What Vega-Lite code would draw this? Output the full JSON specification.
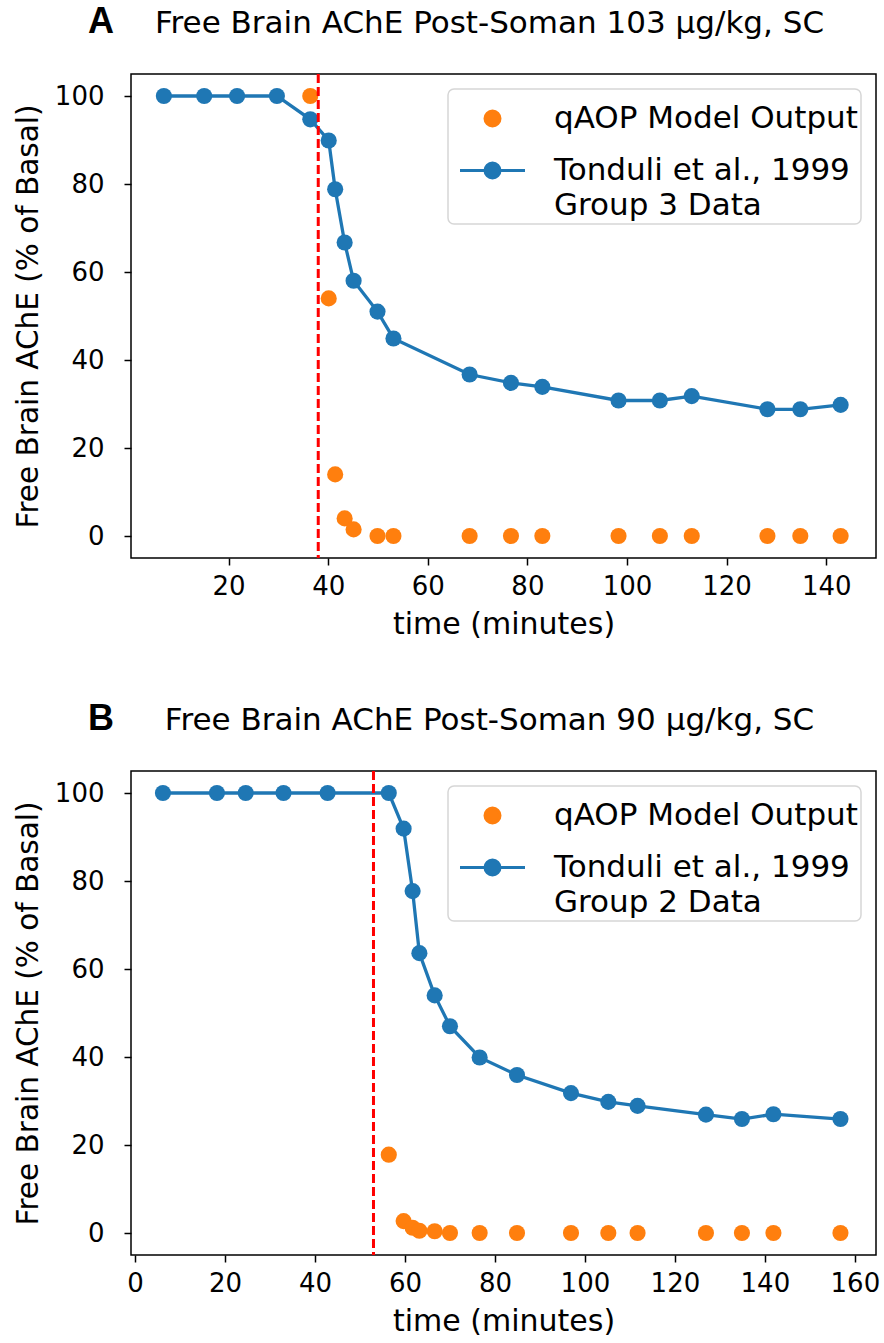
{
  "$schema": "https://vega.github.io/schema/vega-lite/v6.json",
  "background": "white",
  "padding": {"left": 12, "top": 3, "right": 5, "bottom": 0},
  "datasets": {
    "A": [
      {"t": 7, "v": 100, "series": "Tonduli"},
      {"t": 15.1, "v": 100, "series": "Tonduli"},
      {"t": 21.7, "v": 100, "series": "Tonduli"},
      {"t": 29.7, "v": 100, "series": "Tonduli"},
      {"t": 36.4, "v": 94.7, "series": "Tonduli"},
      {"t": 40.1, "v": 89.9, "series": "Tonduli"},
      {"t": 41.4, "v": 78.8, "series": "Tonduli"},
      {"t": 43.3, "v": 66.7, "series": "Tonduli"},
      {"t": 45.1, "v": 58, "series": "Tonduli"},
      {"t": 49.9, "v": 51, "series": "Tonduli"},
      {"t": 53.1, "v": 44.9, "series": "Tonduli"},
      {"t": 68.4, "v": 36.7, "series": "Tonduli"},
      {"t": 76.7, "v": 34.8, "series": "Tonduli"},
      {"t": 83, "v": 33.9, "series": "Tonduli"},
      {"t": 98.3, "v": 30.8, "series": "Tonduli"},
      {"t": 106.6, "v": 30.8, "series": "Tonduli"},
      {"t": 113, "v": 31.8, "series": "Tonduli"},
      {"t": 128.2, "v": 28.8, "series": "Tonduli"},
      {"t": 134.8, "v": 28.8, "series": "Tonduli"},
      {"t": 142.9, "v": 29.8, "series": "Tonduli"},
      {"t": 36.4, "v": 100, "series": "qAOP Model Output"},
      {"t": 40.1, "v": 54, "series": "qAOP Model Output"},
      {"t": 41.4, "v": 14, "series": "qAOP Model Output"},
      {"t": 43.3, "v": 4, "series": "qAOP Model Output"},
      {"t": 45.1, "v": 1.5, "series": "qAOP Model Output"},
      {"t": 49.9, "v": 0, "series": "qAOP Model Output"},
      {"t": 53.1, "v": 0, "series": "qAOP Model Output"},
      {"t": 68.4, "v": 0, "series": "qAOP Model Output"},
      {"t": 76.7, "v": 0, "series": "qAOP Model Output"},
      {"t": 83, "v": 0, "series": "qAOP Model Output"},
      {"t": 98.3, "v": 0, "series": "qAOP Model Output"},
      {"t": 106.6, "v": 0, "series": "qAOP Model Output"},
      {"t": 113, "v": 0, "series": "qAOP Model Output"},
      {"t": 128.2, "v": 0, "series": "qAOP Model Output"},
      {"t": 134.8, "v": 0, "series": "qAOP Model Output"},
      {"t": 142.9, "v": 0, "series": "qAOP Model Output"}
    ],
    "B": [
      {"t": 6.2, "v": 100, "series": "Tonduli"},
      {"t": 18.2, "v": 100, "series": "Tonduli"},
      {"t": 24.6, "v": 100, "series": "Tonduli"},
      {"t": 33, "v": 100, "series": "Tonduli"},
      {"t": 42.8, "v": 100, "series": "Tonduli"},
      {"t": 56.4, "v": 100, "series": "Tonduli"},
      {"t": 59.7, "v": 91.9, "series": "Tonduli"},
      {"t": 61.7, "v": 77.7, "series": "Tonduli"},
      {"t": 63.2, "v": 63.6, "series": "Tonduli"},
      {"t": 66.6, "v": 54, "series": "Tonduli"},
      {"t": 70, "v": 47, "series": "Tonduli"},
      {"t": 76.6, "v": 39.9, "series": "Tonduli"},
      {"t": 84.9, "v": 35.9, "series": "Tonduli"},
      {"t": 96.9, "v": 31.8, "series": "Tonduli"},
      {"t": 105.2, "v": 29.8, "series": "Tonduli"},
      {"t": 111.7, "v": 28.9, "series": "Tonduli"},
      {"t": 126.9, "v": 26.9, "series": "Tonduli"},
      {"t": 134.9, "v": 25.9, "series": "Tonduli"},
      {"t": 141.9, "v": 27, "series": "Tonduli"},
      {"t": 156.8, "v": 25.9, "series": "Tonduli"},
      {"t": 56.4, "v": 17.8, "series": "qAOP Model Output"},
      {"t": 59.7, "v": 2.7, "series": "qAOP Model Output"},
      {"t": 61.7, "v": 1.2, "series": "qAOP Model Output"},
      {"t": 63.2, "v": 0.5, "series": "qAOP Model Output"},
      {"t": 66.6, "v": 0.4, "series": "qAOP Model Output"},
      {"t": 70, "v": 0, "series": "qAOP Model Output"},
      {"t": 76.6, "v": 0, "series": "qAOP Model Output"},
      {"t": 84.9, "v": 0, "series": "qAOP Model Output"},
      {"t": 96.9, "v": 0, "series": "qAOP Model Output"},
      {"t": 105.2, "v": 0, "series": "qAOP Model Output"},
      {"t": 111.7, "v": 0, "series": "qAOP Model Output"},
      {"t": 126.9, "v": 0, "series": "qAOP Model Output"},
      {"t": 134.9, "v": 0, "series": "qAOP Model Output"},
      {"t": 141.9, "v": 0, "series": "qAOP Model Output"},
      {"t": 156.8, "v": 0, "series": "qAOP Model Output"}
    ],
    "ruleA": [{"t": 38}],
    "ruleB": [{"t": 53}]
  },
  "vconcat": [
    {
      "width": 745,
      "height": 484,
      "title": {"text": "A", "anchor": "start", "frame": "group", "dx": -43, "dy": 34, "offset": 0, "fontSize": 36, "font": "Liberation Sans", "fontWeight": "bold", "color": "black"},
      "layer": [
        {
          "data": {"name": "A"},
          "transform": [{"filter": "datum.series == 'Tonduli'"}],
          "mark": {"type": "line", "strokeWidth": 3.3, "point": {"filled": true, "size": 260, "opacity": 1}},
          "encoding": {
            "x": {"field": "t", "type": "quantitative", "scale": {"domain": [0.4, 150], "nice": false, "zero": false}, "axis": {"orient": "bottom", "values": [20, 40, 60, 80, 100, 120, 140], "title": "time (minutes)"}},
            "y": {"field": "v", "type": "quantitative", "scale": {"domain": [-5, 105], "nice": false, "zero": false}, "axis": {"values": [0, 20, 40, 60, 80, 100], "title": "Free Brain AChE (% of Basal)"}},
            "color": {"field": "series", "type": "nominal", "scale": {"domain": ["qAOP Model Output", "Tonduli"], "range": ["#ff7f0e", "#1f77b4"]},
              "legend": {"labelExpr": "datum.label == 'Tonduli' ? ['Tonduli et al., 1999', 'Group 3 Data'] : datum.label",
                "encode": {
                  "symbols": {"update": {"shape": {"signal": "datum.value == 'qAOP Model Output' ? 'M-0.3,0A0.3,0.3,0,1,1,0.3,0A0.3,0.3,0,1,1,-0.3,0Z' : 'M-1.3,0L1.3,0M-0.3,0A0.3,0.3,0,1,1,0.3,0A0.3,0.3,0,1,1,-0.3,0Z'"}}},
                  "labels": {"update": {"lineHeight": {"value": 35}}}}}}
          }
        },
        {
          "data": {"name": "A"},
          "transform": [{"filter": "datum.series == 'qAOP Model Output'"}],
          "mark": {"type": "point", "filled": true, "size": 260, "opacity": 1},
          "encoding": {
            "x": {"field": "t", "type": "quantitative", "axis": null},
            "y": {"field": "v", "type": "quantitative"},
            "color": {"field": "series", "type": "nominal"}
          }
        },
        {
          "data": {"name": "ruleA"},
          "mark": {"type": "rule", "color": "#ff0000", "strokeWidth": 3, "strokeDash": [9, 4]},
          "encoding": {
            "x": {"field": "t", "type": "quantitative", "axis": {"orient": "top", "labels": false, "ticks": false, "domain": false, "title": "Free Brain AChE Post-Soman 103 µg/kg, SC", "titlePadding": 35, "titleFontSize": 31, "titleX": 358, "titleAlign": "center"}}
          }
        }
      ],
      "resolve": {"axis": {"x": "independent"}}
    },
    {
      "width": 745,
      "height": 484,
      "title": {"text": "B", "anchor": "start", "frame": "group", "dx": -43, "dy": 34, "offset": 0, "fontSize": 36, "font": "Liberation Sans", "fontWeight": "bold", "color": "black"},
      "layer": [
        {
          "data": {"name": "B"},
          "transform": [{"filter": "datum.series == 'Tonduli'"}],
          "mark": {"type": "line", "strokeWidth": 3.3, "point": {"filled": true, "size": 260, "opacity": 1}},
          "encoding": {
            "x": {"field": "t", "type": "quantitative", "scale": {"domain": [-0.9, 164.7], "nice": false, "zero": false}, "axis": {"orient": "bottom", "values": [0, 20, 40, 60, 80, 100, 120, 140, 160], "title": "time (minutes)"}},
            "y": {"field": "v", "type": "quantitative", "scale": {"domain": [-5, 105], "nice": false, "zero": false}, "axis": {"values": [0, 20, 40, 60, 80, 100], "title": "Free Brain AChE (% of Basal)"}},
            "color": {"field": "series", "type": "nominal", "scale": {"domain": ["qAOP Model Output", "Tonduli"], "range": ["#ff7f0e", "#1f77b4"]},
              "legend": {"labelExpr": "datum.label == 'Tonduli' ? ['Tonduli et al., 1999', 'Group 2 Data'] : datum.label",
                "encode": {
                  "symbols": {"update": {"shape": {"signal": "datum.value == 'qAOP Model Output' ? 'M-0.3,0A0.3,0.3,0,1,1,0.3,0A0.3,0.3,0,1,1,-0.3,0Z' : 'M-1.3,0L1.3,0M-0.3,0A0.3,0.3,0,1,1,0.3,0A0.3,0.3,0,1,1,-0.3,0Z'"}}},
                  "labels": {"update": {"lineHeight": {"value": 35}}}}}}
          }
        },
        {
          "data": {"name": "B"},
          "transform": [{"filter": "datum.series == 'qAOP Model Output'"}],
          "mark": {"type": "point", "filled": true, "size": 260, "opacity": 1},
          "encoding": {
            "x": {"field": "t", "type": "quantitative", "axis": null},
            "y": {"field": "v", "type": "quantitative"},
            "color": {"field": "series", "type": "nominal"}
          }
        },
        {
          "data": {"name": "ruleB"},
          "mark": {"type": "rule", "color": "#ff0000", "strokeWidth": 3, "strokeDash": [9, 4]},
          "encoding": {
            "x": {"field": "t", "type": "quantitative", "axis": {"orient": "top", "labels": false, "ticks": false, "domain": false, "title": "Free Brain AChE Post-Soman 90 µg/kg, SC", "titlePadding": 35, "titleFontSize": 31, "titleX": 358, "titleAlign": "center"}}
          }
        }
      ],
      "resolve": {"axis": {"x": "independent"}}
    }
  ],
  "spacing": 60,
  "resolve": {"scale": {"color": "independent"}, "legend": {"color": "independent"}},
  "config": {
    "view": {"stroke": "black", "strokeWidth": 1.5},
    "axis": {"labelFont": "DejaVu Sans", "titleFont": "DejaVu Sans", "labelFontSize": 26, "titleFontSize": 30, "titleFontWeight": "normal", "labelColor": "black", "titleColor": "black", "tickColor": "black", "tickWidth": 1.5, "tickSize": 7, "grid": false, "domain": false, "labelPadding": 8, "titlePadding": 10, "labelFlush": false, "labelOverlap": false},
    "axisY": {"labelPadding": 20, "titlePadding": 11, "titleFontSize": 29.5},
    "legend": {
      "orient": "top-right", "offset": 15, "padding": 3, "title": null,
      "strokeColor": "#d6d6d6", "strokeWidth": 1.5, "cornerRadius": 6, "fillColor": "white",
      "labelFont": "DejaVu Sans", "labelFontSize": 31, "labelColor": "black", "labelLimit": 600, "labelOffset": 35,
      "symbolSize": 2500, "symbolOffset": 15, "symbolStrokeWidth": 3, "rowPadding": 10,
      "symbolType": "M-1.3,0L1.3,0M-0.3,0A0.3,0.3,0,1,1,0.3,0A0.3,0.3,0,1,1,-0.3,0Z"
    },
    "title": {"fontSize": 36}
  }
}
